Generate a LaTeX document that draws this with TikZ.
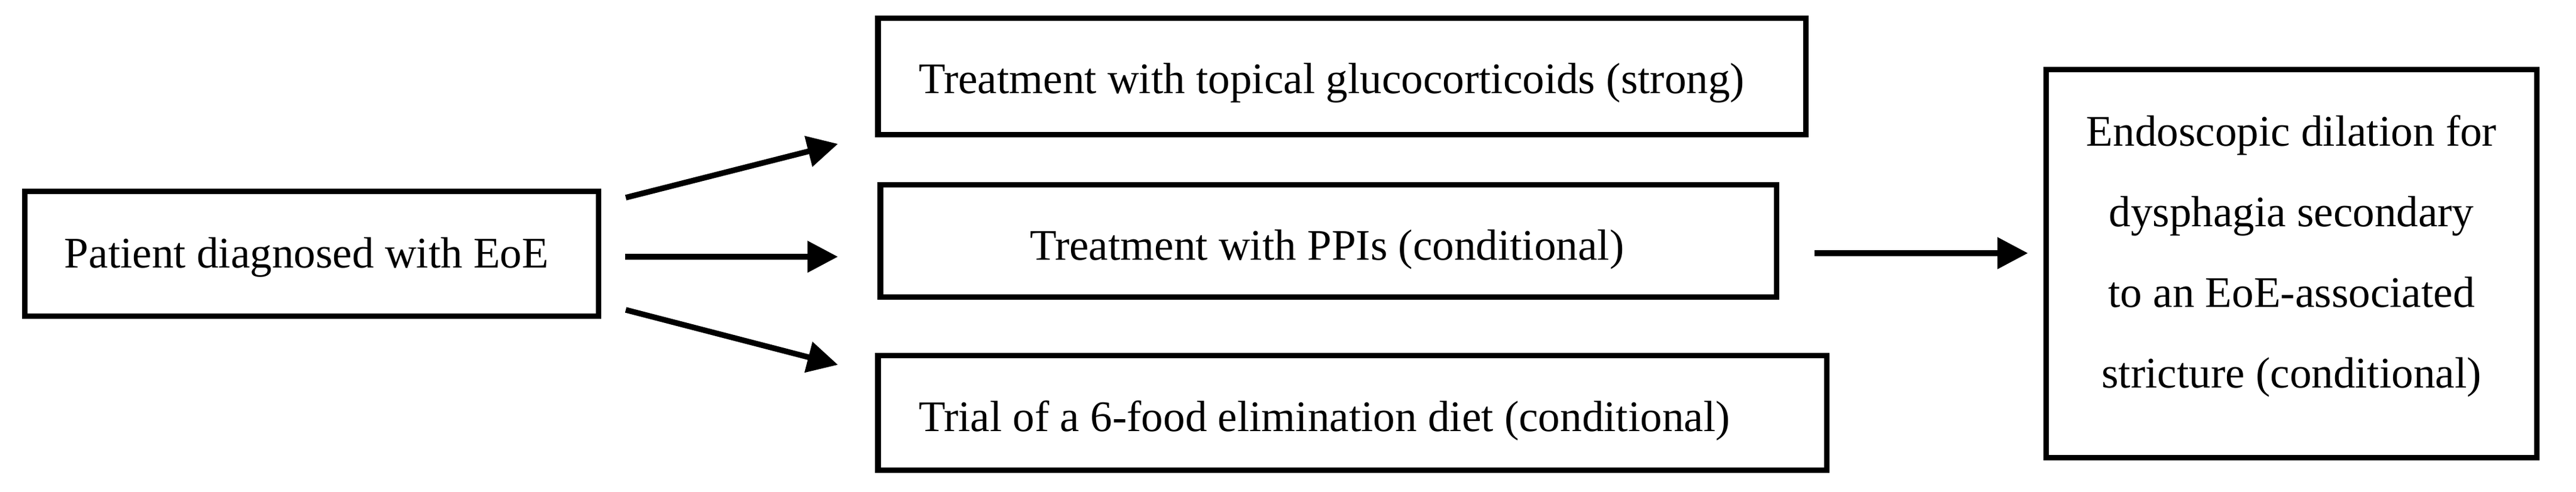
\documentclass[tikz,border=0pt]{standalone}
\usepackage{fontspec}
\setmainfont{Liberation Serif}
\usetikzlibrary{arrows.meta,calc}
\tikzset{
  boxbase/.style={draw, rectangle, line width=0.093cm, inner sep=0pt,
              font=\fontsize{20.8}{38.4}\selectfont},
  box/.style={boxbase, text depth=0pt},
  arr/.style={line width=0.095cm, -{Triangle[length=0.51cm,width=0.51cm]}}
}
\begin{document}
\begin{tikzpicture}
\useasboundingbox (0,0) rectangle (43.10,8.24);
\node[box, minimum width=9.60cm, minimum height=2.09cm, text height=0.48cm] (A) at (5.215,3.99)
  {\makebox[9.60cm][l]{\hspace{0.665cm}Patient diagnosed with EoE}};
\node[box, minimum width=15.525cm, minimum height=1.95cm, text height=0.58cm] (B1) at (22.4525,6.96)
  {\makebox[15.525cm][l]{\hspace{0.68cm}Treatment with topical glucocorticoids (strong)}};
\node[box, minimum width=14.995cm, minimum height=1.88cm, text height=0.65cm] (B2) at (22.2275,4.205)
  {\makebox[14.995cm][l]{\hspace{2.50cm}Treatment with PPIs (conditional)}};
\node[box, minimum width=15.875cm, minimum height=1.92cm, text height=0.63cm] (B3) at (22.6275,1.325)
  {\makebox[15.875cm][l]{\hspace{0.68cm}Trial of a 6-food elimination diet (conditional)}};
\node[boxbase, minimum width=8.21cm, minimum height=6.50cm, align=center] (C) at (38.34,3.825)
  {Endoscopic dilation for\\dysphagia secondary\\to an EoE-associated\\stricture (conditional)\rule[-0.41cm]{0pt}{0.1cm}};
\coordinate (a1s) at (10.47,4.93);
\coordinate (a1e) at (14.02,5.83);
\coordinate (a2s) at (10.46,3.94);
\coordinate (a2e) at (14.02,3.94);
\coordinate (a3s) at (10.47,3.05);
\coordinate (a3e) at (14.02,2.13);
\coordinate (a4s) at (30.36,4.00);
\coordinate (a4e) at (33.93,4.00);
\draw[arr] (a1s) -- (a1e);
\draw[arr] (a2s) -- (a2e);
\draw[arr] (a3s) -- (a3e);
\draw[arr] (a4s) -- (a4e);
\end{tikzpicture}
\end{document}
